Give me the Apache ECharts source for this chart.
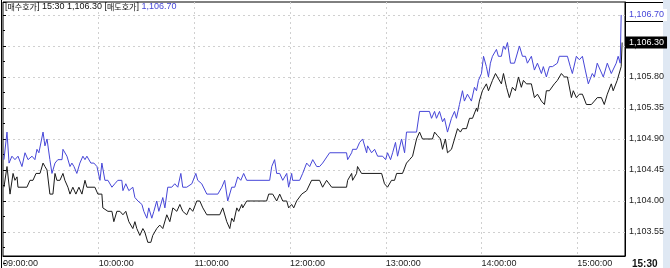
<!DOCTYPE html>
<html><head><meta charset="utf-8">
<script src="https://cdn.jsdelivr.net/npm/echarts@6/dist/echarts.min.js"></script>
<style>html,body{margin:0;padding:0;background:#fff}#c{width:670px;height:268px}</style>
</head><body><div id="c"></div>
<script>
// time = minutes after 09:00
const bidTimes = [0.6,2.5,4.4,6.3,7.5,8.8,9.4,15.0,16.9,18.8,
20.7,23.2,25.1,26.3,27.6,29.4,31.3,32.6,33.8,35.7,
37.6,38.8,40.7,42.0,43.8,45.7,47.6,49.5,51.4,52.6,
57.6,59.5,62.0,62.6,65.8,68.3,69.5,71.4,73.3,75.2,
77.0,78.9,81.4,82.7,83.9,85.8,87.7,88.9,90.8,92.7,
93.9,96.4,98.3,100.2,102.7,104.6,106.5,109.0,110.9,112.7,
115.2,117.1,119.0,121.5,123.4,125.3,127.8,135.9,137.8,140.3,
142.2,143.4,144.7,146.6,147.8,149.7,150.3,152.8,165.3,166.6,
169.1,171.6,173.5,175.4,177.9,179.1,181.0,182.3,184.1,187.3,
190.4,193.5,198.5,200.4,202.9,206.1,215.4,216.1,218.6,219.2,
221.7,222.3,224.8,237.4,239.2,241.1,243.6,245.5,246.8,250.5,
253.0,254.9,256.8,259.3,261.2,263.0,269.3,270.6,272.4,274.3,
275.6,277.4,278.7,281.2,283.1,285.0,286.8,288.1,290.6,292.5,
294.4,296.9,297.5,298.7,300.6,303.1,304.4,306.9,308.8,310.0,
312.5,313.8,315.7,317.5,319.4,321.3,323.2,325.0,326.3,328.2,
331.3,333.2,335.1,337.6,339.5,340.7,342.6,345.7,347.6,350.1,
352.0,353.9,356.4,357.6,359.5,361.4,363.3,365.8,368.9,370.8,
372.6,375.2,377.0,378.9,381.4,382.6,385.1,387.6,388.2];
const bidValues = [1104.20,1104.50,1104.10,1104.40,1104.30,1104.35,1104.20,1104.20,1104.30,1104.30,
1104.40,1104.40,1104.55,1104.50,1104.45,1104.10,1104.10,1104.40,1104.30,1104.30,
1104.40,1104.30,1104.20,1104.10,1104.20,1104.10,1104.20,1104.10,1104.30,1104.20,
1104.20,1104.10,1104.10,1103.90,1103.85,1103.85,1103.70,1103.85,1103.85,1103.80,
1103.85,1103.70,1103.60,1103.70,1103.60,1103.50,1103.60,1103.55,1103.40,1103.40,
1103.50,1103.60,1103.65,1103.60,1103.80,1103.70,1103.90,1103.85,1103.95,1103.85,
1103.80,1103.90,1103.85,1104.00,1104.00,1103.90,1103.80,1103.80,1103.90,1103.70,
1103.60,1103.75,1103.70,1103.90,1103.85,1103.95,1103.90,1104.00,1104.00,1104.10,
1104.10,1104.00,1104.10,1104.00,1104.00,1103.90,1103.95,1103.90,1104.00,1104.10,
1104.15,1104.30,1104.30,1104.20,1104.30,1104.20,1104.20,1104.30,1104.40,1104.30,
1104.40,1104.50,1104.40,1104.40,1104.25,1104.20,1104.30,1104.30,1104.40,1104.40,
1104.55,1104.60,1104.65,1104.90,1105.00,1104.90,1104.90,1105.00,1104.95,1104.90,
1104.75,1104.90,1104.70,1104.75,1104.90,1105.05,1105.00,1105.05,1105.05,1105.20,
1105.20,1105.35,1105.30,1105.45,1105.60,1105.70,1105.60,1105.75,1105.85,1105.80,
1105.70,1105.85,1105.65,1105.50,1105.65,1105.60,1105.80,1105.65,1105.75,1105.70,
1105.70,1105.50,1105.55,1105.45,1105.40,1105.60,1105.60,1105.70,1105.75,1105.85,
1105.80,1105.80,1105.50,1105.60,1105.50,1105.55,1105.55,1105.40,1105.40,1105.45,
1105.50,1105.50,1105.40,1105.55,1105.70,1105.60,1105.75,1105.95,1106.30];

const askTimes = [0.6,2.5,3.8,5.6,7.5,9.4,11.9,13.8,15.7,18.2,
20.0,21.3,22.5,25.1,26.3,27.6,29.4,30.7,32.6,34.4,
37.0,37.6,40.1,42.0,43.2,44.5,46.3,48.2,50.1,51.4,
52.6,55.1,57.0,58.9,60.8,62.0,63.9,65.8,68.3,70.1,
72.0,74.5,75.2,77.0,78.9,81.4,82.7,84.6,87.1,88.3,
90.2,91.4,93.3,94.6,96.4,97.7,100.2,101.5,103.3,105.8,
107.7,109.6,111.5,112.7,115.2,118.4,120.9,122.1,124.6,127.8,
134.7,137.2,139.0,140.9,143.4,145.3,147.2,149.1,150.9,152.8,
167.2,168.5,170.3,171.6,173.5,175.4,177.9,179.1,181.0,181.6,
186.0,187.9,190.4,192.3,194.2,196.7,198.5,200.4,204.8,215.4,
216.1,218.6,219.2,221.7,223.6,225.5,228.0,228.6,231.1,233.0,
234.9,238.0,239.9,241.1,243.0,244.3,246.1,247.4,249.9,251.8,
253.0,259.3,261.2,267.4,268.7,270.6,271.8,273.7,275.6,276.8,
278.7,281.2,283.1,284.3,286.2,288.1,289.3,291.2,293.7,295.6,
296.9,298.1,300.0,301.3,303.1,304.4,305.6,306.9,309.4,310.6,
312.5,313.8,315.0,316.3,318.2,320.7,323.8,325.7,327.6,328.8,
331.3,333.2,335.1,337.6,338.8,340.7,342.6,344.5,347.6,348.8,
353.9,355.7,357.0,359.5,361.4,363.3,365.1,367.0,369.5,370.8,
372.6,374.5,376.4,378.9,381.4,384.5,385.7,387.0,387.6];
const askValues = [1104.60,1105.00,1104.55,1104.65,1104.60,1104.65,1104.50,1104.70,1104.60,1104.65,
1104.60,1104.75,1104.70,1105.00,1104.80,1104.90,1104.60,1104.40,1104.55,1104.60,
1104.60,1104.75,1104.65,1104.50,1104.55,1104.50,1104.40,1104.55,1104.65,1104.60,
1104.65,1104.55,1104.55,1104.50,1104.30,1104.55,1104.30,1104.30,1104.20,1104.25,
1104.30,1104.30,1104.15,1104.25,1104.15,1104.20,1104.05,1104.00,1103.95,1103.85,
1103.75,1103.90,1103.75,1103.85,1104.00,1103.85,1104.05,1103.90,1104.20,1104.20,
1104.25,1104.20,1104.40,1104.20,1104.20,1104.25,1104.40,1104.30,1104.25,1104.10,
1104.10,1104.20,1104.30,1104.00,1104.20,1104.20,1104.35,1104.30,1104.40,1104.30,
1104.30,1104.50,1104.60,1104.40,1104.40,1104.30,1104.40,1104.20,1104.40,1104.30,
1104.30,1104.40,1104.55,1104.50,1104.60,1104.50,1104.50,1104.55,1104.70,1104.70,
1104.60,1104.70,1104.75,1104.75,1104.85,1104.90,1104.70,1104.80,1104.70,1104.75,
1104.65,1104.65,1104.60,1104.70,1104.60,1104.70,1104.85,1104.65,1104.90,1104.70,
1105.00,1105.00,1105.30,1105.30,1105.20,1105.30,1105.20,1105.30,1105.15,1105.20,
1105.00,1105.20,1105.30,1105.20,1105.40,1105.60,1105.45,1105.55,1105.45,1105.65,
1105.60,1105.75,1105.85,1106.10,1105.95,1105.80,1106.00,1106.10,1106.20,1106.10,
1106.10,1106.25,1106.20,1106.30,1106.00,1106.00,1106.25,1106.10,1106.10,1106.00,
1106.10,1105.90,1106.00,1105.85,1105.95,1105.80,1105.95,1105.95,1106.00,1106.10,
1106.10,1105.95,1105.85,1106.10,1106.05,1106.10,1105.90,1105.70,1105.85,1105.80,
1106.00,1105.90,1105.80,1106.00,1105.85,1106.00,1106.10,1106.00,1106.70];

const seriesNames = ['매수호가', '매도호가'];
const closeLabel = '15:30';

const FONT = '"Liberation Sans",Arial,"Noto Sans CJK KR",sans-serif';
const KFONT = '"Noto Sans CJK KR","Liberation Sans",sans-serif';
const fmt = v => Number(v).toLocaleString('en-US', {minimumFractionDigits: 2, maximumFractionDigits: 2});
const pad = n => (n < 10 ? '0' : '') + n;
const tfmt = m => pad(9 + Math.floor(m / 60)) + ':' + pad(m % 60) + ':00';
const zip = (a, b) => a.map((t, i) => [t, b[i]]);
const lastBid = bidValues[bidValues.length - 1];
const lastAsk = askValues[askValues.length - 1];
const BLUE = '#4646d8';
const FS = 9;

const chart = echarts.init(document.getElementById('c'));
chart.setOption({
  animation: false,
  backgroundColor: '#fff',
  title: {
    left: 5, top: 2, padding: 0,
    text: '{a|[}{k|' + seriesNames[0] + '}{a|] ' + closeLabel + ' ' + fmt(lastBid) + ' [}{k|' + seriesNames[1] + '}{a|] }{b|' + fmt(lastAsk) + '}',
    textStyle: {
      fontWeight: 'normal',
      rich: {
        a: {fontFamily: FONT, fontSize: 9, color: '#111', fontWeight: 'normal'},
        k: {fontFamily: KFONT, fontSize: 8, color: '#111', fontWeight: 'normal'},
        b: {fontFamily: FONT, fontSize: 9, color: BLUE, fontWeight: 'normal'}
      }
    }
  },
  grid: [
    {left: 3, right: 45, top: 2, bottom: 5, outerBoundsMode: 'none', containLabel: false},
    {left: 3, right: 45, top: 2, bottom: 12, outerBoundsMode: 'none', containLabel: false,
     show: true, borderColor: '#000', borderWidth: 1, backgroundColor: 'transparent'}
  ],
  xAxis: [
    {gridIndex: 0, type: 'value', min: 0, max: 390, show: false},
    {gridIndex: 1, type: 'value', min: 0, max: 390, interval: 60,
     axisLine: {show: true, onZero: false, lineStyle: {color: '#000', width: 1}},
     axisTick: {show: false},
     axisLabel: {
       margin: 3, align: 'left', fontFamily: FONT, fontSize: FS, color: '#222',
       formatter: v => (v === 390 ? '{b|' + closeLabel + '}' : tfmt(v)),
       rich: {b: {fontFamily: FONT, fontSize: FS + 1, fontWeight: 'bold', color: '#111', padding: [0, 0, 0, 7]}}
     },
     splitLine: {show: true, showMinLine: false, showMaxLine: false,
       lineStyle: {color: '#d0d0d0', type: [2, 3], width: 1}}
    }
  ],
  yAxis: [
    {gridIndex: 0, type: 'value', position: 'right', min: 1103.10, max: 1106.888, interval: 0.45,
     axisLine: {show: false},
     axisTick: {show: true, length: 3, lineStyle: {color: '#000'}},
     minorTick: {show: true, splitNumber: 2, length: 2, lineStyle: {color: '#000'}},
     axisLabel: {margin: 4, showMinLabel: false, showMaxLabel: false, fontFamily: FONT, fontSize: FS,
       color: '#222', formatter: v => fmt(v)},
     splitLine: {show: true, showMinLine: false, showMaxLine: false,
       lineStyle: {color: '#d0d0d0', type: [2, 3], width: 1}}
    },
    {gridIndex: 1, type: 'value', position: 'right', min: 0, max: 1,
     axisLine: {show: true, onZero: false, lineStyle: {color: '#000', width: 1}},
     axisTick: {show: false}, axisLabel: {show: false}, splitLine: {show: false}}
  ],
  series: [
    {name: seriesNames[0], type: 'line', xAxisIndex: 0, yAxisIndex: 0, data: zip(bidTimes, bidValues),
     showSymbol: false, lineStyle: {color: '#1a1a1a', width: 1}, itemStyle: {color: '#1a1a1a'},
     markLine: {silent: true, symbol: 'none', data: [{yAxis: lastBid}],
       lineStyle: {color: 'rgba(0,0,0,0)', width: 0, opacity: 1},
       label: {position: 'end', distance: 1, formatter: p => fmt(p.value), fontFamily: FONT, fontSize: FS,
         color: '#fff', backgroundColor: '#000', padding: [2, 3, 1, 3], opacity: 1}}},
    {name: seriesNames[1], type: 'line', xAxisIndex: 0, yAxisIndex: 0, data: zip(askTimes, askValues),
     showSymbol: false, lineStyle: {color: BLUE, width: 1}, itemStyle: {color: BLUE},
     markLine: {silent: true, symbol: 'none', data: [{yAxis: lastAsk}],
       lineStyle: {color: 'rgba(0,0,0,0)', width: 0, opacity: 1},
       label: {position: 'end', distance: 1, formatter: p => fmt(p.value), fontFamily: FONT, fontSize: FS,
         color: BLUE, backgroundColor: '#fff', padding: [2, 3, 1, 3], opacity: 1}}}
  ],
  graphic: [
    {type: 'rect', left: 663, top: 0, shape: {width: 7, height: 268}, style: {fill: '#dfe8f3'}, silent: true},
    {type: 'line', shape: {x1: 1.5, y1: 0, x2: 1.5, y2: 268}, style: {stroke: '#000', lineWidth: 1}, silent: true},
    {type: 'line', shape: {x1: 625, y1: 2.5, x2: 663, y2: 2.5}, style: {stroke: '#000', lineWidth: 1}, silent: true},
    {type: 'line', shape: {x1: 625, y1: 21.5, x2: 663, y2: 21.5}, style: {stroke: '#000', lineWidth: 1}, silent: true}
  ]
});
</script>
</body></html>
